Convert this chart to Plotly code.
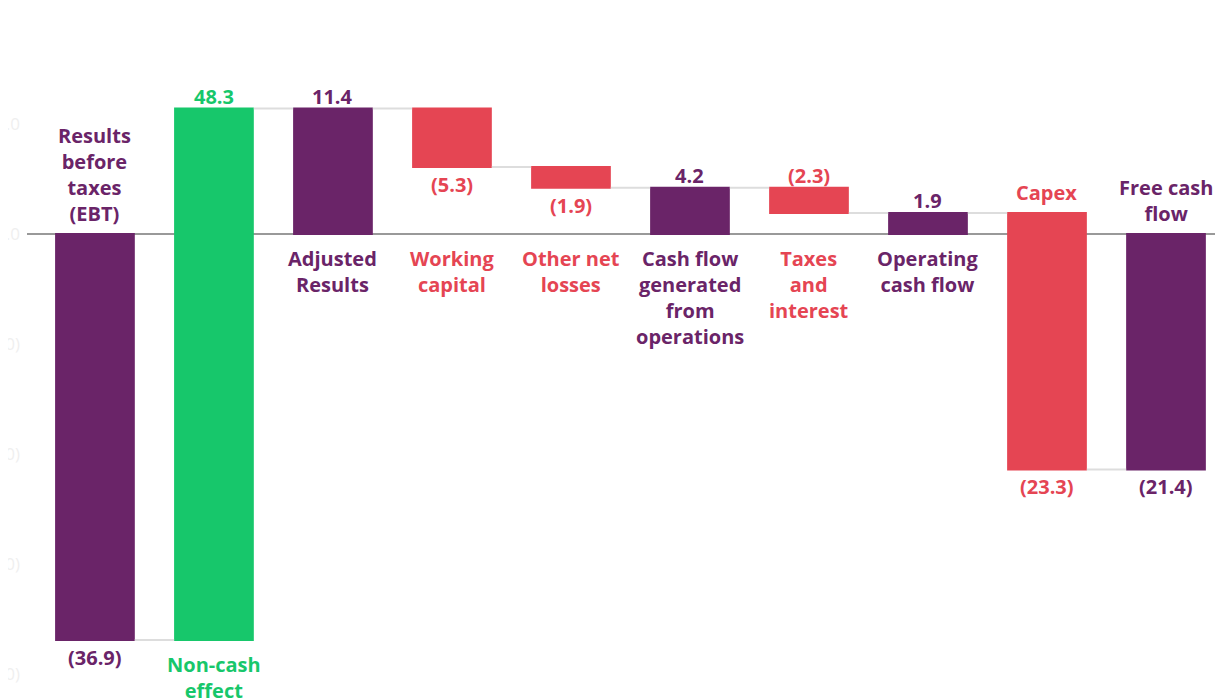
import plotly.graph_objects as go

# ---- data ----
categories = ["Results before taxes (EBT)", "Non-cash effect", "Adjusted Results",
              "Working capital", "Other net losses", "Cash flow generated from operations",
              "Taxes and interest", "Operating cash flow", "Capex", "Free cash flow"]
display_names = ["Results<br>before<br>taxes<br>(EBT)", "Non-cash<br>effect", "Adjusted<br>Results",
                 "Working<br>capital", "Other net<br>losses", "Cash flow<br>generated<br>from<br>operations",
                 "Taxes<br>and<br>interest", "Operating<br>cash flow", "Capex", "Free cash<br>flow"]
values = [-36.9, 48.3, 11.4, -5.3, -1.9, 4.2, -2.3, 1.9, -23.3, -21.4]
measures = ["absolute", "relative", "total", "relative", "relative", "total",
            "relative", "total", "relative", "total"]
y_tick_vals = [20, 10, 0, -10, -20, -30, -40]
y_tick_text = ["20.0", "10.0", "0.0", "(10.0)", "(20.0)", "(30.0)", "(40.0)"]

# ---- styles / placement ----
PURPLE = "#6A2468"
GREEN = "#17C76B"
RED = "#E54553"
value_side = ["below", "above", "above", "below", "below", "above", "above", "above", "below", "below"]
name_side = ["above", "below", "below", "below", "below", "below", "below", "below", "above", "above"]
FONT = "Open Sans"
FS = 20

# compute bar extents (for label placement)
lo, hi, colors = [], [], []
cum = 0.0
for v, m in zip(values, measures):
    if m == "relative":
        start, end = cum, cum + v
        cum = end
        colors.append(GREEN if v > 0 else RED)
    else:
        start, end = 0.0, v
        cum = v
        colors.append(PURPLE)
    lo.append(min(start, end))
    hi.append(max(start, end))

def fmt(v):
    return f"{v:.1f}" if v >= 0 else f"({abs(v):.1f})"

fig = go.Figure(go.Waterfall(
    x=categories, y=values, measure=measures,
    increasing=dict(marker=dict(color=GREEN)),
    decreasing=dict(marker=dict(color=RED)),
    totals=dict(marker=dict(color=PURPLE)),
    connector=dict(line=dict(color="#dddddd", width=2)),
    textposition="none", hoverinfo="skip",
))

annotations = []
for i, c in enumerate(categories):
    col = colors[i]
    if value_side[i] == "above":
        annotations.append(dict(x=c, y=hi[i], text=fmt(values[i]), yanchor="bottom", yshift=-3))
    else:
        annotations.append(dict(x=c, y=lo[i], text=fmt(values[i]), yanchor="top", yshift=-2))
    annotations[-1]["font"] = dict(color=col, size=FS, family=FONT, weight="bold")
    if name_side[i] == "above":
        annotations.append(dict(x=c, y=hi[i], text=display_names[i], yanchor="bottom", yshift=5))
    else:
        annotations.append(dict(x=c, y=min(lo[i], 0), text=display_names[i], yanchor="top", yshift=-9))
    annotations[-1]["font"] = dict(color=col, size=FS, family=FONT, weight="bold")
for a in annotations:
    a.update(xref="x", yref="y", showarrow=False, xanchor="center", align="center")

# The page body has an 8px margin, so the figure is sized to fit the 1223x700 window
fig.update_layout(
    width=1215, height=692,
    margin=dict(l=19, r=0, t=0, b=0, autoexpand=False),
    paper_bgcolor="white", plot_bgcolor="white",
    waterfallgap=0.33,
    showlegend=False,
    annotations=annotations,
    font=dict(family=FONT),
    xaxis=dict(range=[-0.571, 9.479], showticklabels=False, showgrid=False,
               zeroline=False, showline=False, ticks="", automargin=False),
    yaxis=dict(range=[-42.36, 20.545], tickvals=y_tick_vals, ticktext=y_tick_text,
               tickfont=dict(color="#efefef", size=17, family=FONT),
               showgrid=False, zeroline=True, zerolinecolor="#999999", zerolinewidth=2,
               ticks="", ticklabelstandoff=6, automargin=False),
)

fig.write_html("out.html")
